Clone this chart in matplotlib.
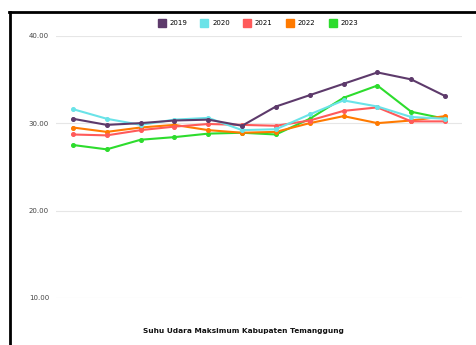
import matplotlib
matplotlib.use("Agg")
import matplotlib.pyplot as plt
from matplotlib.lines import Line2D

months = list(range(12))
years = ["2019", "2020", "2021", "2022", "2023"]
v2019 = [30.5, 29.8, 30.0, 30.3, 30.4, 29.7, 31.9, 33.2, 34.5, 35.8, 35.0, 33.1]
v2020 = [31.6, 30.5, 29.8, 30.4, 30.6, 29.2, 29.3, 31.0, 32.6, 31.9, 30.7, 30.5]
v2021 = [28.7, 28.6, 29.2, 29.6, 29.9, 29.8, 29.7, 30.3, 31.4, 31.8, 30.2, 30.2]
v2022 = [29.5, 29.0, 29.5, 29.8, 29.2, 28.9, 29.0, 30.0, 30.8, 30.0, 30.3, 30.8]
v2023 = [27.5, 27.0, 28.1, 28.4, 28.8, 28.9, 28.7, 30.5, 32.9, 34.3, 31.3, 30.5]
series = [v2019, v2020, v2021, v2022, v2023]
colors = ["#5D3A6B", "#6AE3E8", "#FF5A5A", "#FF7A00", "#2DDC2D"]
yticks = [10, 20, 30, 40]
title = "Suhu Udara Maksimum Kabupaten Temanggung"

fig = plt.figure(figsize=(4.77, 3.45), dpi=100)
W, H = 477, 345
ax = fig.add_axes([56 / W, 1 - 298 / H, (462 - 56) / W, (298 - 35.7) / H])

for i, (vals, c) in enumerate(zip(series, colors)):
    ax.plot(months, vals, color=c, lw=1.5, marker="o", ms=2.6,
            zorder=10 - i, solid_joinstyle="round")

ax.set_xlim(-0.5, 11.5)
ax.set_ylim(10, 40)
ax.set_yticks(yticks)
ax.set_yticklabels([f"{t:.2f}" for t in yticks], fontsize=5, color="#444444")
ax.set_xticks([])
ax.tick_params(axis="y", length=0, pad=5)
ax.grid(axis="y", color="#E6E6E6", lw=0.8)
ax.set_axisbelow(True)
for s in ax.spines.values():
    s.set_visible(False)

# legend
handles = [Line2D([], [], ls="none", marker="s", ms=6, markerfacecolor=c,
                  markeredgecolor=c, label=y) for y, c in zip(years, colors)]
fig.legend(handles=handles, loc="center", bbox_to_anchor=(258 / W, 1 - 23 / H),
           ncol=5, frameon=False, fontsize=5, handlelength=1.0,
           handletextpad=0.6, columnspacing=2.0)

fig.text(243 / W, 1 - 331 / H, title, ha="center", va="center",
         fontsize=5.3, fontweight="bold", color="#111111")

# border of the card
fig.add_artist(Line2D([10 / W, 10 / W], [0, 1 - 12 / H], color="black", lw=2,
                      transform=fig.transFigure))
fig.add_artist(Line2D([9 / W, 1], [1 - 12 / H, 1 - 12 / H], color="black", lw=2,
                      transform=fig.transFigure))

fig.savefig("out.png", dpi=100)
